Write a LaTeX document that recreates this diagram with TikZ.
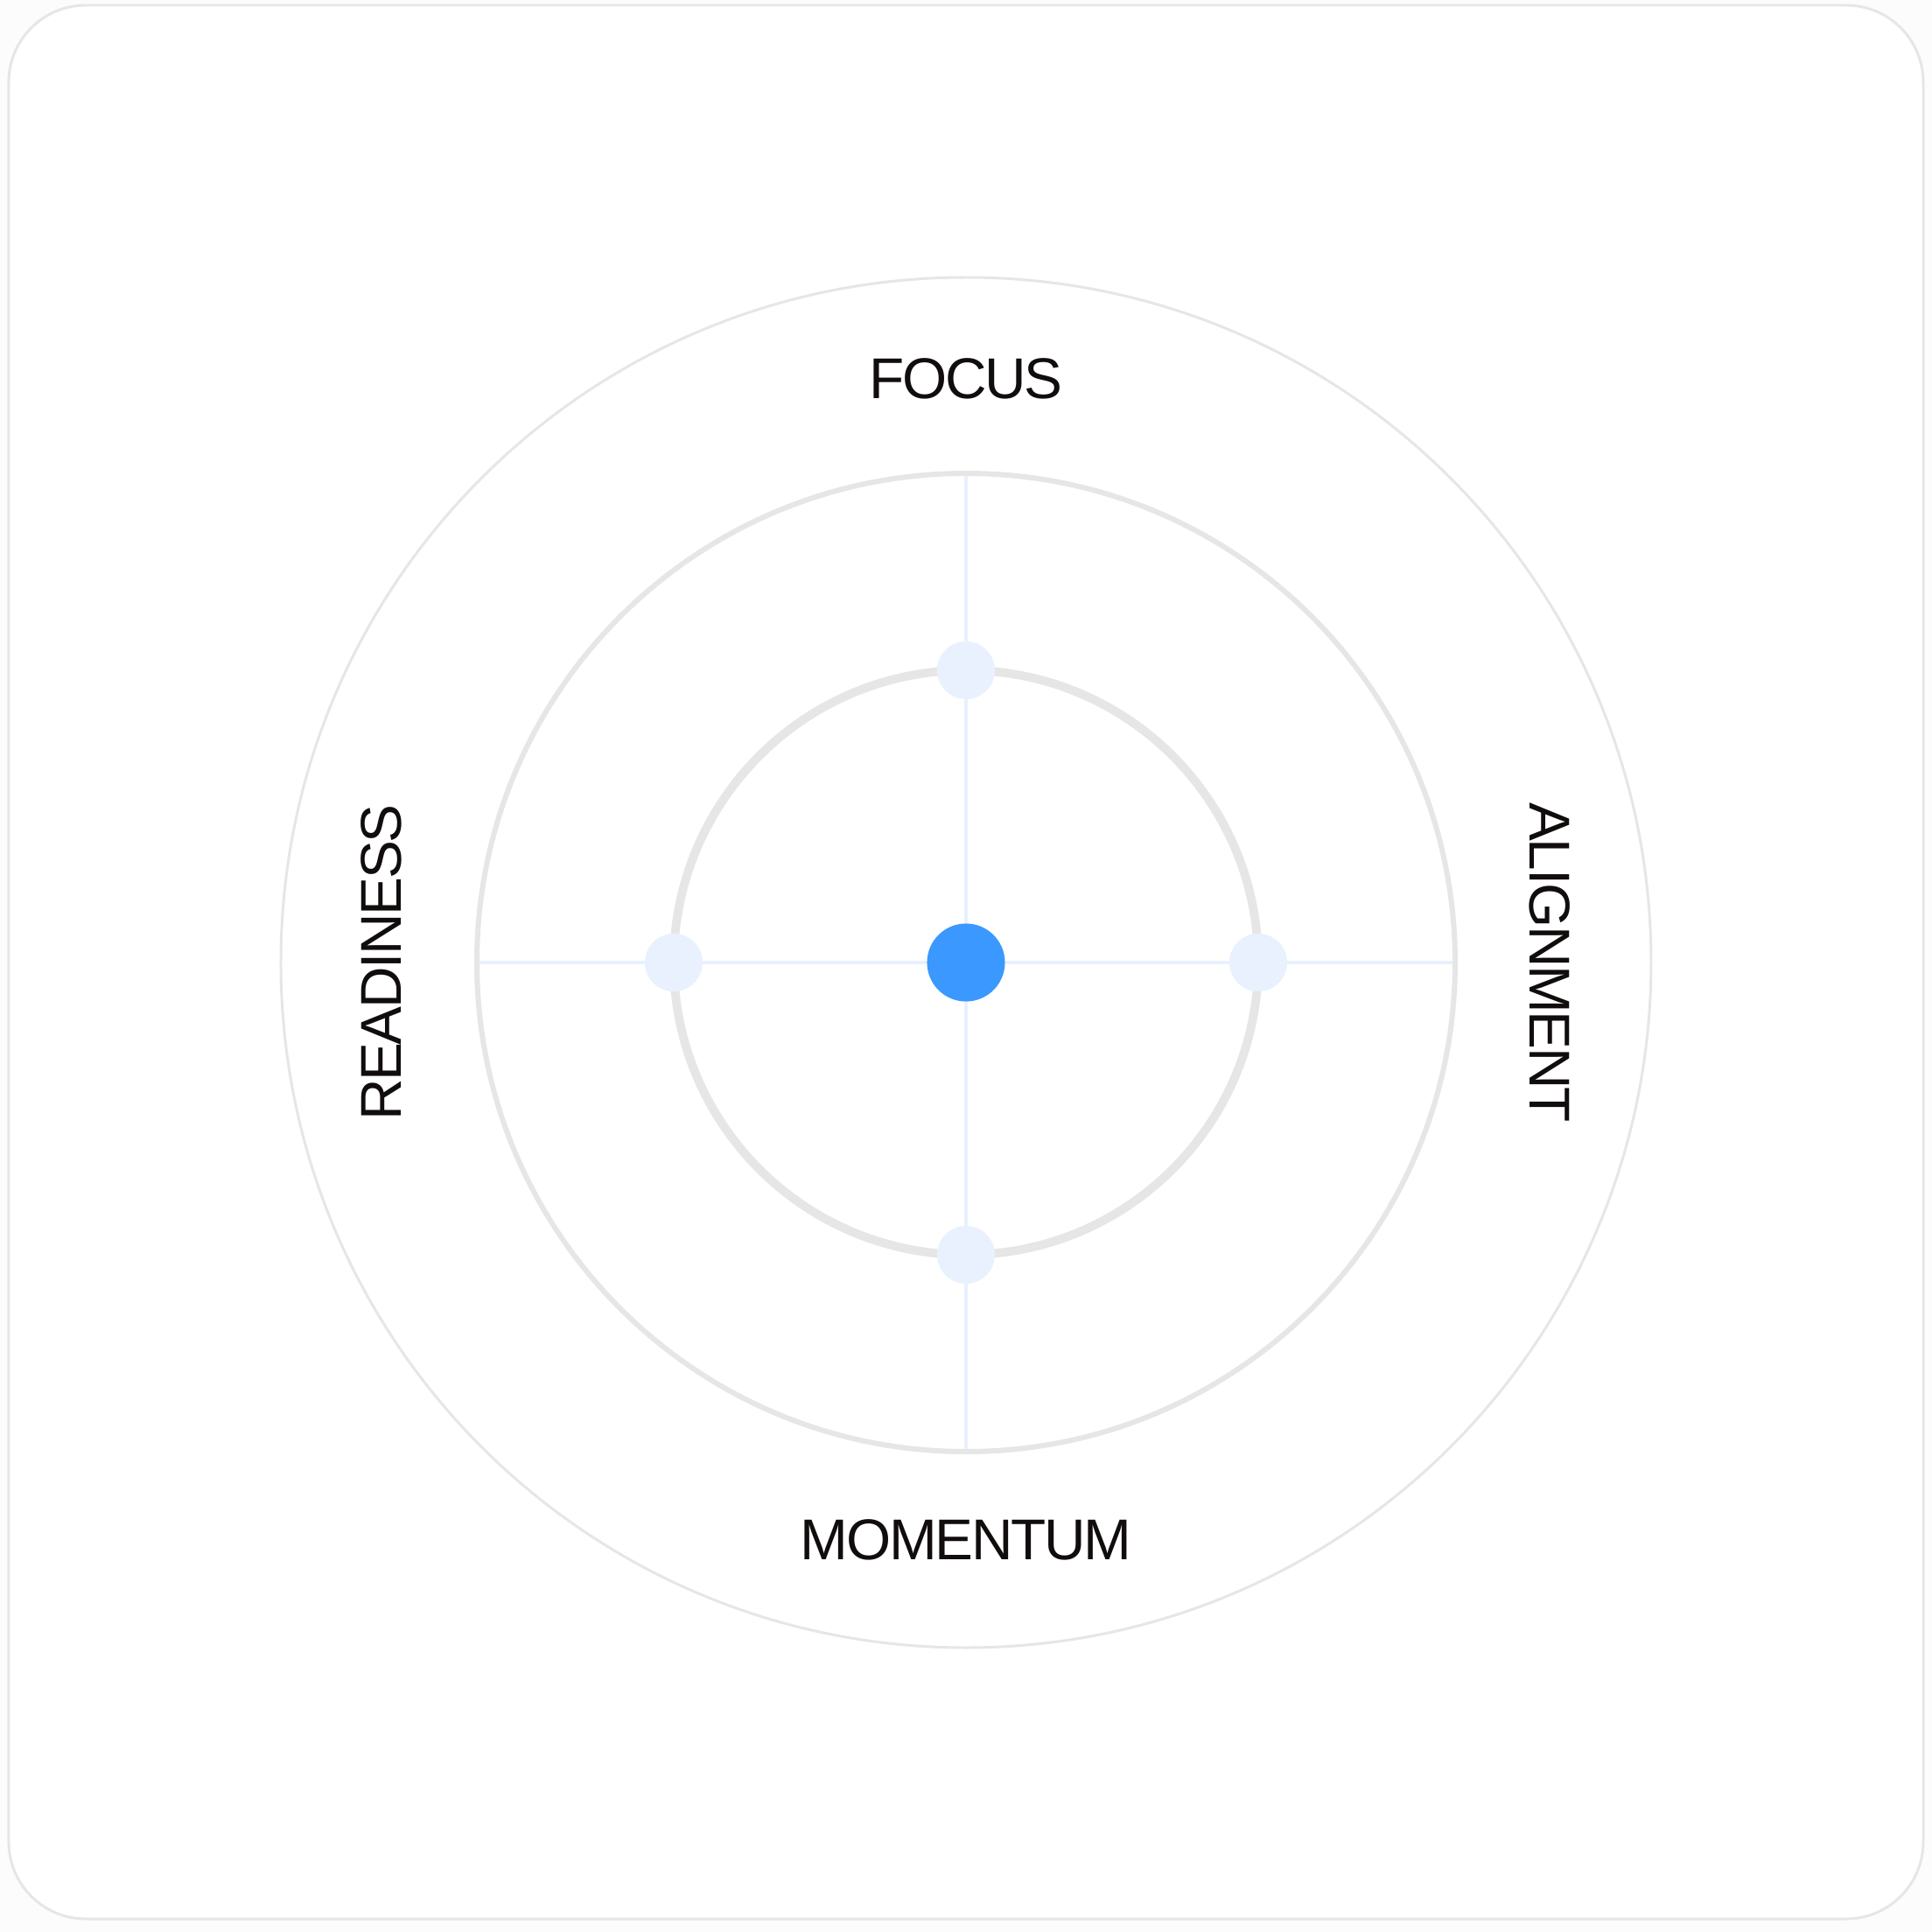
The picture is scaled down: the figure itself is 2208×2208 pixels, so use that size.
\documentclass[tikz,border=0pt]{standalone}
\usepackage{fontspec}
\setmainfont{Liberation Sans}
\usepackage{tikz}
\usetikzlibrary{positioning}
\definecolor{paper}{HTML}{FCFCFC}
\definecolor{edge}{HTML}{E6E6E6}
\definecolor{ringgray}{HTML}{E6E6E6}
\definecolor{axisblue}{HTML}{E8F1FD}
\definecolor{spotblue}{HTML}{E8F1FD}
\definecolor{hubblue}{HTML}{3A98FF}
\definecolor{ink}{HTML}{110D0D}

\begin{document}
\begin{tikzpicture}[
    x=0.01cm, y=0.01cm,
    card/.style={draw=edge, line width=0.85pt, fill=white, rounded corners=0.88cm},
    ring/.style={draw=ringgray},
    axis/.style={draw=axisblue, line width=1.14pt},
    spot/.style={circle, fill=spotblue, minimum size=0.66cm, inner sep=0},
    hub/.style={circle, fill=hubblue, minimum size=0.89cm, inner sep=0},
    tag/.style={text=ink, inner sep=0,
        font=\fontsize{18.7}{22}\selectfont\addfontfeature{LetterSpace=-3.5}},
  ]
  \useasboundingbox (-1104,-1108) rectangle (1104,1100);
  \fill[paper] (-1104,-1108) rectangle (1104,1100);
  \draw[card] (-1094,-1093) rectangle (1094,1094);

  % rings
  \draw[ring, line width=0.85pt] (0,0) circle (783);

  \foreach \name/\ang in {focus/90, align/0, moment/270, ready/180} {
      \coordinate (\name end) at (\ang:559);
    }
  \draw[axis] (focusend) -- (momentend);
  \draw[axis] (readyend) -- (alignend);

  \draw[ring, line width=1.7pt] (0,0) circle (559);
  \draw[ring, line width=2.8pt] (0,0) circle (334);

  % dots
  \node[hub] (hub) at (0,0) {};
  \foreach \name/\ang in {focus/90, align/0, moment/270, ready/180} {
      \node[spot] (\name dot) at (\ang:334) {};
    }

  % labels
  \node[tag] (focuslabel) at (90:667) {FOCUS};
  \node[tag, rotate=-90] (alignlabel) at (0:667) {ALIGNMENT};
  \node[tag] (momentlabel) at (270:660) {MOMENTUM};
  \node[tag, rotate=90] (readylabel) at (180:668) {READINESS};
\end{tikzpicture}
\end{document}
